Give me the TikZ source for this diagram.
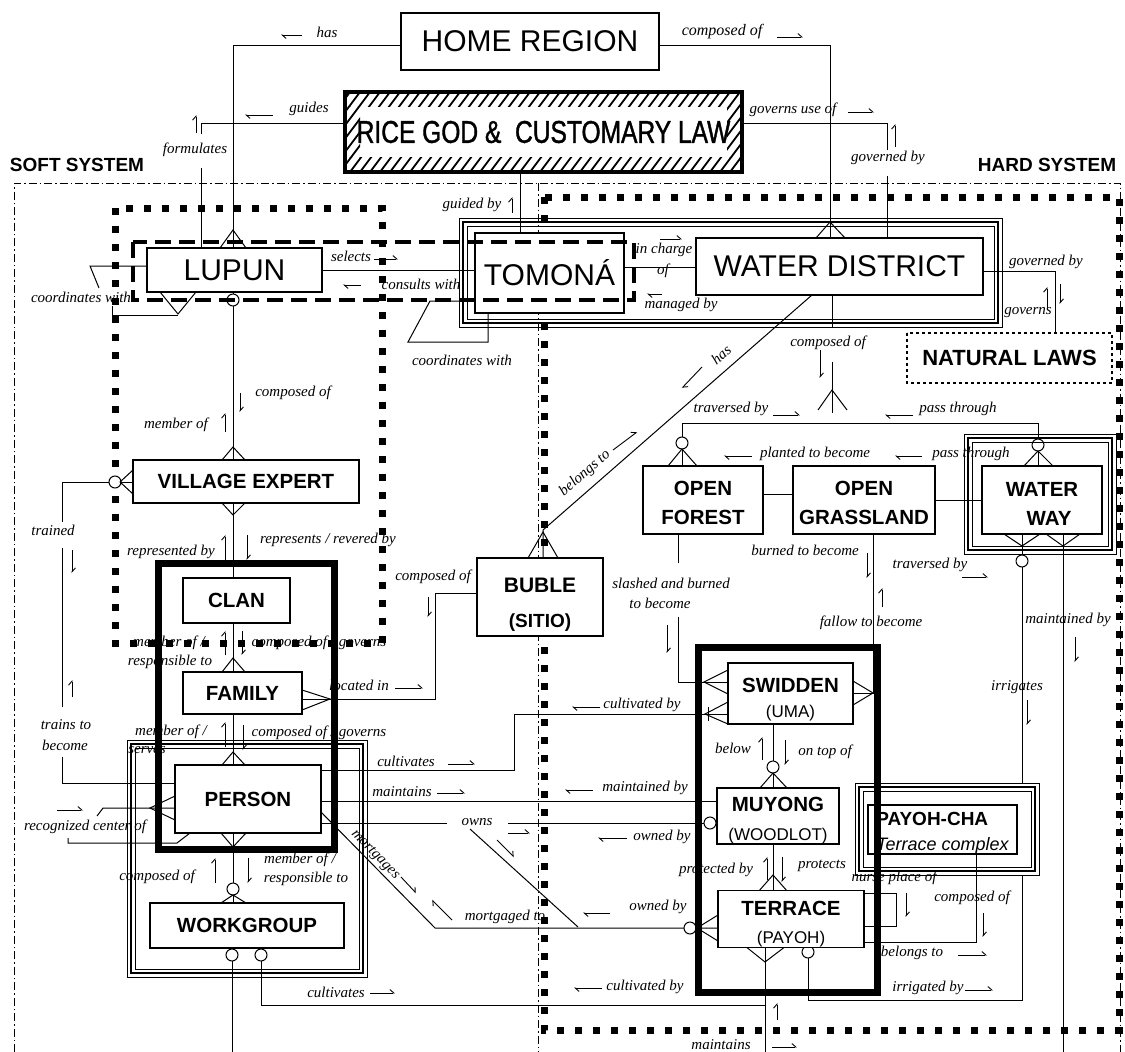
\documentclass[tikz,border=0pt]{standalone}
\usepackage{fontspec}
\setmainfont{Liberation Sans}
\newfontfamily\lblfont{Liberation Serif}
\newfontfamily\narrowsans{Liberation Sans}[FakeStretch=0.78, FakeBold=1.2]
\usetikzlibrary{arrows.meta}

\tikzset{
  rel/.style={line width=1pt},
  harp/.style={line width=0.9pt, -{Straight Barb[harpoon,length=4pt,width=7pt]}},
  box/.style={draw, line width=1.3pt, fill=white, inner sep=0pt, outer sep=0pt, align=center},
  lbl/.style={font=\lblfont\itshape\fontsize{15}{16}\selectfont, inner sep=0pt},
  sqdot/.style={line width=7pt, dash pattern=on 7pt off 11pt},
  dashdot/.style={line width=0.9pt, dash pattern=on 8pt off 3pt on 1.5pt off 3pt},
  longdash/.style={line width=4.5pt, dash pattern=on 16pt off 8pt},
  heavy/.style={line width=7pt},
  finedot/.style={line width=2.6pt, dash pattern=on 2.6pt off 3.4pt},
  bigtxt/.style={font=\fontsize{30}{32}\selectfont},
  enttxt/.style={font=\bfseries\fontsize{20.5}{24}\selectfont},
  systxt/.style={font=\bfseries\fontsize{19}{21}\selectfont, inner sep=0pt},
}

% entity box from its corners: [options]{name}{x1}{y1}{x2}{y2}{text}
\newcommand\ent[7][]{\node[box,#1,minimum width={#5-#3},minimum height={#6-#4}]
  (#2) at ({(#3+#5)/2},{(#4+#6)/2}) {#7};}
% strut that lowers a two-line entity text
\newcommand\lift[1]{\rule{0pt}{#1pt}}
\newcounter{lblc}
\newcommand\lb[3][]{\stepcounter{lblc}\node[lbl,#1] (lab\arabic{lblc}) at (#2) {#3};}
\newcommand\harx[3]{\draw[harp] (#1,#3) -- (#2,#3);}
\newcommand\hary[3]{\draw[harp] (#1,#2) -- (#1,#3);}
\newcommand\crowft[3]{\draw[rel] (#2) -- (#1) -- (#3);}
\newcommand\ring[1]{\draw[rel,fill=white] (#1) circle[radius=6];}
\newcommand\triplebox[5][none]{%
  \draw[line width=0.9pt, fill=#1] (#2,#3) rectangle (#4,#5);
  \draw[line width=2.2pt] ([shift={(4,4)}]#2,#3) rectangle ([shift={(-4,-4)}]#4,#5);
  \draw[line width=0.9pt] ([shift={(8,8)}]#2,#3) rectangle ([shift={(-8,-8)}]#4,#5);}
\newcommand\hatchband[4]{\begin{scope}\clip (#1,#2) rectangle (#3,#4);
  \foreach \hx in {270,280,...,750}{\draw[line width=1.8pt] (\hx,172) -- ++(60,-80);}\end{scope}}

\begin{document}
\begin{tikzpicture}[x=1pt,y=-1pt]
\useasboundingbox (0,0) rectangle (1125,1052);
\fill[white] (0,0) rectangle (1125,1052);

% soft / hard system frames
\draw[dashdot] (14,1052) -- (14,183) -- (1120,183) -- (1120,1052);
\draw[dashdot] (538,183) -- (538,1052);
\node[systxt] (soft) at (77,165) {SOFT SYSTEM};
\node[systxt] (hard) at (1047,165) {HARD SYSTEM};

% square-dotted groupings
\draw[sqdot] (115,208) rectangle (382,643);
\draw[sqdot] (544,197) rectangle (1119,1030);

% ---------- top entities ----------
\ent[bigtxt]{home}{401}{13}{659}{70}{HOME REGION}
\ent[line width=4.5pt, font=\narrowsans\fontsize{31.5}{33}\selectfont]{rice}{345}{92}{742}{172}{RICE GOD \&\ \ CUSTOMARY LAW}
\hatchband{347}{94}{740}{106}
\hatchband{347}{157}{740}{170}
\hatchband{347}{106}{360}{157}
\hatchband{727}{106}{740}{157}

% ---------- connectors ----------
% HOME REGION -- LUPUN
\draw[rel] (home.west |- 0,45) -- (233,45) -- (233,248);
\crowft{233,230}{220,248}{246,248}
% HOME REGION -- WATER DISTRICT
\draw[rel] (home.east |- 0,45) -- (830,45) -- (830,238);
\crowft{830,222}{816,238}{845,238}
% RICE GOD -- LUPUN
\draw[rel] (rice.west |- 0,123) -- (201,123) -- (201,134) (201,168) -- (201,248);
% RICE GOD -- TOMONA
\draw[rel] (rice.south -| 520,0) -- (520,233);
% RICE GOD -- WATER DISTRICT
\draw[rel] (rice.east |- 0,123) -- (887,123) -- (887,150) (887,176) -- (887,238);
% WATER DISTRICT -- NATURAL LAWS
\draw[rel] (983,271) -- (1055,271) -- (1055,333);
% LUPUN -- TOMONA
\draw[rel] (322,270) -- (475,270);
% LUPUN coordinates with
\draw[rel] (147,266) -- (90,266) -- (99,288);
\draw[rel] (112,306) -- (112,315) -- (178,315);
\crowft{178,314}{160,292}{196,292}
% TOMONA coordinates with
\draw[rel] (475,301) -- (430,301) -- (408,342) -- (488,342) -- (488,313);
% TOMONA -- WATER DISTRICT
\draw[rel] (624,267) -- (696,267);
% WATER DISTRICT composed of
\draw[rel] (832,295) -- (832,327) (832,362) -- (832,413);
\crowft{832,390}{818,410}{847,410}
% OPEN FOREST -- WATER WAY
\draw[rel] (682,466) -- (682,423) -- (1038,423) -- (1038,466);
\ring{682,443} \crowft{682,449}{668,466}{697,466}
\ring{1038,445} \crowft{1038,451}{1024,466}{1053,466}
% OPEN FOREST -- OPEN GRASSLAND -- WATER WAY
\draw[rel] (763,494) -- (793,494);
\draw[rel] (935,500) -- (982,500);
% OPEN FOREST -- SWIDDEN
\draw[rel] (678,534) -- (678,563) (678,617) -- (678,682) -- (728,682);
\crowft{704,682}{728,670}{728,694}
% OPEN GRASSLAND -- SWIDDEN
\draw[rel] (873,534) -- (873,693) -- (853,693);
\crowft{873,693}{853,681}{853,705}
% WATER WAY -- TERRACE (irrigates)
\draw[rel] (1022,534) -- (1022,1000) -- (808,1000) -- (808,946);
\crowft{1022,546}{1004,534}{1040,534}
\ring{1022,561}
\ring{808,952}
% WATER WAY maintained by
\draw[rel] (1063,534) -- (1063,1052);
\crowft{1063,546}{1046,534}{1080,534}
% TERRACE maintains
\draw[rel] (765,946) -- (765,1052);
\crowft{765,962}{745,946}{786,946}
% WORKGROUP -- TERRACE cultivates
\draw[rel] (261,948) -- (261,1005) -- (765,1005);
\ring{261,955}
\draw[rel] (232,948) -- (232,1052);
\ring{232,955}
% PERSON -- WORKGROUP
\draw[rel] (233,833) -- (233,903);
\crowft{233,847}{221,833}{246,833}
\ring{233,889} \crowft{233,895}{221,903}{246,903}
% FAMILY -- PERSON
\draw[rel] (233,714) -- (233,765);
\crowft{233,752}{222,765}{245,765}
% CLAN -- FAMILY
\draw[rel] (233,623) -- (233,672);
\crowft{233,658}{222,672}{245,672}
% VILLAGE EXPERT -- CLAN
\draw[rel] (233,503) -- (233,578);
\crowft{233,515}{222,503}{245,503}
% LUPUN -- VILLAGE EXPERT
\draw[rel] (233,292) -- (233,460);
\ring{233,300}
\crowft{233,447}{222,460}{245,460}
% VILLAGE EXPERT -- PERSON (trained)
\draw[rel] (133,482) -- (62,482) -- (62,522) (62,548) -- (62,707) (62,757) -- (62,783) -- (175,783);
\ring{115,482}
\crowft{120,482}{133,470}{133,494}
% PERSON recognized center of
\draw[rel] (175,808) -- (103,808) -- (97,816);
\draw[rel] (68,838) -- (68,843) -- (177,843) -- (190,833);
\crowft{150,808}{175,796}{175,820}
% PERSON -- SWIDDEN
\draw[rel] (321,770) -- (514,770) -- (514,714) -- (728,714);
\crowft{705,714}{728,702}{728,724}
\draw[rel] (708,707) -- (708,721);
% PERSON -- MUYONG maintains
\draw[rel] (321,801) -- (717,801);
% PERSON -- MUYONG owns
\draw[rel] (321,823) -- (447,823) (508,823) -- (717,823);
\ring{710,823}
\draw[rel] (470,829) -- (578,927);
% PERSON -- TERRACE mortgages
\draw[rel] (321,812) -- (435,928) -- (718,928);
\ring{690,928}
\crowft{697,928}{718,915}{718,941}
% SWIDDEN -- MUYONG
\draw[rel] (773,724) -- (773,788);
\ring{773,767} \crowft{773,773}{760,788}{787,788}
% MUYONG -- TERRACE
\draw[rel] (773,844) -- (773,892);
\crowft{773,875}{758,892}{788,892}
% TERRACE self loop
\draw[rel] (864,893) -- (896,893) -- (896,926) -- (864,926);
% BUBLE -- FAMILY
\draw[rel] (477,593) -- (435,593) -- (435,699) -- (302,699);
\crowft{330,699}{302,690}{302,710}
% WATER DISTRICT -- BUBLE
\draw[rel] (812,295) -- (543,530) -- (543,558);
\crowft{543,532}{528,558}{558,558}

% ---------- group borders and entity boxes ----------
\triplebox{459}{218}{1002}{327}
\triplebox{127}{740}{367}{977}
\triplebox{964}{434}{1116}{554}
\triplebox[white]{855}{783}{1039}{875}

\ent[bigtxt]{lupun}{147}{248}{322}{292}{LUPUN}
\ent[bigtxt]{tomona}{475}{233}{624}{313}{TOMONÁ}
\ent[bigtxt]{wd}{696}{238}{983}{295}{WATER DISTRICT}
\ent[draw=none, font=\bfseries\fontsize{22}{24}\selectfont]{nat}{907}{333}{1112}{383}{NATURAL LAWS}
\draw[finedot] (907,333) rectangle (1112,383);
\ent[enttxt]{vex}{133}{460}{359}{503}{VILLAGE EXPERT}
\ent[enttxt]{clan}{183}{578}{290}{623}{CLAN}
\ent[enttxt]{family}{183}{672}{302}{714}{FAMILY}
\ent[enttxt]{person}{175}{765}{321}{833}{PERSON}
\ent[enttxt]{wg}{150}{903}{344}{948}{WORKGROUP}
\ent[font=\bfseries\fontsize{21}{35}\selectfont]{buble}{477}{558}{603}{636}{\lift{29}BUBLE\\{\fontsize{19}{21}\selectfont(SITIO)}}
\ent[font=\bfseries\fontsize{20.5}{29}\selectfont]{forest}{643}{466}{763}{534}{\lift{21}OPEN\\FOREST}
\ent[font=\bfseries\fontsize{20.5}{29}\selectfont]{grass}{793}{466}{935}{534}{\lift{21}OPEN\\GRASSLAND}
\ent[font=\bfseries\fontsize{20.5}{29}\selectfont]{ww}{982}{466}{1102}{534}{\lift{21}WATER\\\hspace*{14pt}WAY}
\ent[font=\bfseries\fontsize{20.5}{25}\selectfont]{swid}{728}{663}{853}{724}{\lift{27}SWIDDEN\\{\mdseries\fontsize{17}{19}\selectfont (UMA)}}
\ent[font=\bfseries\fontsize{20.5}{29}\selectfont]{muy}{717}{788}{839}{844}{\lift{23}MUYONG\\{\mdseries\fontsize{17}{19}\selectfont (WOODLOT)}}
\ent[font=\bfseries\fontsize{20.5}{28}\selectfont]{ter}{718}{892}{864}{946}{\lift{25}TERRACE\\{\mdseries\fontsize{17}{19}\selectfont (PAYOH)}}
\ent[font=\bfseries\fontsize{19}{25}\selectfont, align=left]{pcha}{868}{807}{1017}{852}{\lift{20}PAYOH-CHA\\{\mdseries\itshape\fontsize{18}{20}\selectfont Terrace complex}}

% PAYOH-CHA -- TERRACE (drawn above the filled frame)
\draw[rel] (pcha.south -| 976,0) -- (976,942) -- (ter.east |- 0,942);

% heavy groupings
\draw[longdash] (133,242) rectangle (634,300);
\draw[heavy] (158,563) rectangle (334,849);
\draw[heavy] (698,647) rectangle (877,992);

% ---------- relationship labels ----------
\lb{327,32}{has} \harx{302}{281}{35}
\lb[font=\lblfont\itshape\fontsize{16}{17}\selectfont]{722,32}{composed of} \harx{777}{803}{37}
\lb{309,109}{guides} \harx{273}{245}{115}
\lb{195,150}{formulates} \hary{196}{133}{115}
\lb{472,205}{guided by} \hary{512}{213}{197}
\lb{793,110}{governs use of} \harx{848}{874}{112}
\lb{888,158}{governed by} \hary{895}{147}{124}
\lb{1046,262}{governed by} \hary{1060}{284}{304}
\lb{1028,313}{governs} \hary{1047}{310}{287}
\lb{351,256}{selects} \harx{374}{398}{259}
\lb{421,284}{consults with} \harx{361}{343}{285}
\lb{81,297}{coordinates with}
\lb{462,360}{coordinates with}
\lb{664,250}{in charge} \lb{663,271}{of} \harx{660}{682}{239}
\lb{681,305}{managed by} \harx{662}{647}{294}
\lb{828,343}{composed of} \hary{820}{350}{378}
\lb{731,409}{traversed by} \harx{773}{800}{415}
\lb{958,409}{pass through} \harx{913}{885}{415}
\lb{815,454}{planted to become} \harx{752}{724}{456}
\lb{971,454}{pass through} \harx{922}{895}{456}
\lb{671,583}{slashed and burned} \lb{660,603}{to become} \hary{667}{625}{653}
\lb{805,550}{burned to become} \hary{867}{553}{578}
\lb{871,623}{fallow to become} \hary{882}{607}{588}
\lb{930,565}{traversed by} \harx{962}{988}{577}
\lb{1068,620}{maintained by} \hary{1075}{637}{662}
\lb{1017,687}{irrigates} \hary{1027}{700}{725}
\lb{928,988}{irrigated by} \harx{965}{993}{990}
\lb{721,1045}{maintains} \harx{772}{797}{1047} \hary{777}{1020}{1003}
\lb{336,992}{cultivates} \harx{370}{395}{993}
\lb{645,987}{cultivated by} \harx{602}{574}{988}
\lb{157,877}{composed of} \hary{215}{883}{858}
\hary{248}{858}{883} \lb{300,860}{member of /} \lb{306,879}{responsible to}
\lb{171,732}{member of /} \lb{147,750}{serves} \hary{225}{747}{722} \hary{243}{725}{750}
\lb{319,733}{composed of / governs}
\lb{169,643}{member of /} \lb{170,662}{responsible to} \hary{225}{655}{631} \hary{242}{631}{655}
\lb{319,643}{composed of / governs}
\lb{171,552}{represented by} \hary{225}{560}{535} \hary{247}{535}{560}
\lb{328,540}{represents / revered by}
\lb{293,393}{composed of} \hary{240}{393}{412}
\lb{176,425}{member of} \hary{225}{432}{413}
\lb{53,530}{trained} \hary{72}{550}{573} \hary{72}{697}{680}
\lb{66,725}{trains to} \lb{65,745}{become}
\lb{85,827}{recognized center of} \harx{57}{83}{810}
\lb{406,761}{cultivates} \harx{448}{475}{764}
\lb{642,705}{cultivated by} \harx{600}{572}{707}
\lb{402,792}{maintains} \harx{437}{465}{793}
\lb{645,788}{maintained by} \harx{593}{565}{790}
\lb{477,822}{owns} \harx{508}{530}{833}
\draw[harp] (497,840) -- (514,857);
\lb{662,837}{owned by} \harx{627}{598}{838}
\lb[rotate=-46]{375,855}{mortgages} \draw[harp] (401,877) -- (416,893);
\lb{505,917}{mortgaged to} \draw[harp] (452,920) -- (432,900);
\lb{658,907}{owned by} \harx{610}{583}{913}
\lb{733,748}{below} \hary{762}{760}{737} \hary{785}{740}{765} \lb{825,752}{on top of}
\lb{716,870}{protected by} \hary{767}{880}{857} \hary{782}{857}{882} \lb{822,866}{protects}
\lb{972,898}{composed of} \hary{983}{913}{937}
\lb{912,953}{belongs to} \harx{958}{987}{955}
\lb{894,878}{nurse place of} \hary{906}{893}{917}
\lb{433,577}{composed of} \hary{428}{597}{617}
\lb{359,685}{located in} \harx{395}{423}{688}
\lb[rotate=41]{721,355}{has} \draw[harp] (702,367) -- (682,388);
\lb[rotate=41]{585,473}{belongs to} \draw[harp] (613,450) -- (637,432);
\end{tikzpicture}
\end{document}
